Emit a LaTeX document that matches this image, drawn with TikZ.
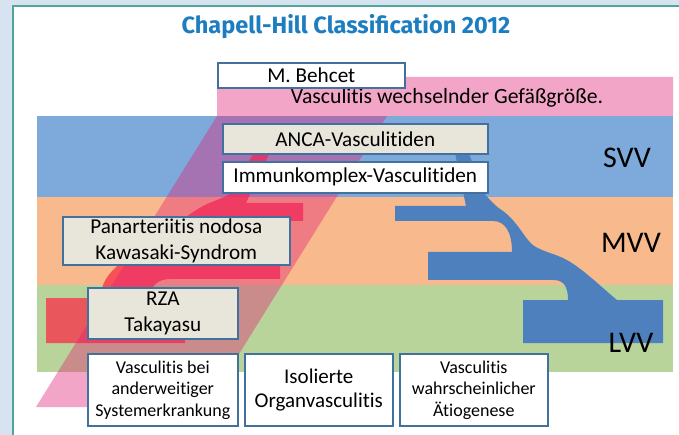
\documentclass[tikz,border=0pt]{standalone}
\usepackage{fontspec}
\setmainfont{Carlito}[Ligatures={NoCommon}]
\newfontfamily\titlefont{Fira Sans}
\usepackage{tikz}

\definecolor{bgframe}{HTML}{D7E3F0}
\definecolor{frameline}{HTML}{4FA79B}
\definecolor{titleblue}{HTML}{1C7EC1}
\definecolor{svvblue}{HTML}{7DAADB}
\definecolor{mvvorange}{HTML}{F8BA8C}
\definecolor{lvvgreen}{HTML}{B8D49B}
\definecolor{treeblue}{HTML}{4F80BE}
\definecolor{treered}{RGB}{250,45,70}
\definecolor{behcetpink}{RGB}{227,32,117}
\definecolor{boxline}{HTML}{41719C}
\definecolor{boxgray}{HTML}{E8E6DA}

\tikzset{
  box/.style={draw=boxline, line width=1.6pt, fill=white, align=center,
    inner sep=0pt, anchor=north west, font=\fontsize{21.2}{26}\selectfont},
  graybox/.style={box, fill=boxgray},
  smallbox/.style={box, font=\fontsize{18}{21.5}\selectfont},
  wh/.style 2 args={minimum width=#1pt, minimum height=#2pt},
  vessel/.style={font=\fontsize{30}{30}\selectfont}
}

\begin{document}
\begin{tikzpicture}[x=1pt, y=-1pt]
    \useasboundingbox (0,0) rectangle (679,435);
    \clip (0,0) rectangle (679,435);
    % frame
    \fill[bgframe] (0,0) rectangle (679,435);
    \draw[frameline, line width=1.8pt, fill=white] (13,6) rectangle (700,460);

    \node[font=\titlefont\bfseries\fontsize{23.5}{23.5}\selectfont, text=titleblue]
      (title) at (346,27) {Chapell-Hill Classification 2012};

    % vessel size bands
    \def\xl{37}
    \def\xr{673}
    \foreach \ya/\yb/\col in {116/197/svvblue, 197/285/mvvorange, 285/372/lvvgreen} {
      \fill[\col] (\xl,\ya) rectangle (\xr,\yb);
    }

    % red tree
    \fill[treered, fill opacity=0.75]
      (256,148) -- (272,148) -- (246,203) -- (303,203) -- (303,221) -- (236,221)
      .. controls (224,221) and (216,232) .. (216,245)
      -- (280,245) -- (280,279) -- (170,279)
      .. controls (158,279) and (150,286) .. (150,298)
      -- (185,298) -- (185,343) -- (46,343) -- (46,298) -- (100,298)
      .. controls (102,280) and (110,268) .. (140,250)
      .. controls (165,235) and (185,215) .. (205,205)
      .. controls (220,198) and (228,197) .. (234,190)
      -- cycle;

    % variable vessel (pink)
    \fill[behcetpink, fill opacity=0.4]
      (217,77) -- (673,77) -- (673,116) -- (387,116) -- (206,407)
      -- (36,407) -- (217,116) -- cycle;

    % blue tree
    \fill[treeblue]
      (454,148) -- (467,148) -- (483,192)
      .. controls (490,200) and (495,206) .. (503,211)
      .. controls (515,220) and (520,230) .. (528,240)
      .. controls (535,250) and (550,252) .. (563,258)
      .. controls (580,266) and (600,286) .. (617,300)
      -- (663,300) -- (663,343) -- (523,343) -- (523,300) -- (568,300)
      .. controls (568,284) and (562,280) .. (553,280)
      -- (428,280) -- (428,252) -- (512,252)
      .. controls (512,232) and (505,221) .. (493,221)
      -- (395,221) -- (395,206) -- (466,206)
      -- cycle;

    % labels
    \foreach \lab/\xv/\yv in {SVV/627/158, MVV/631/243, LVV/631/343} {
      \node[vessel] (\lab) at (\xv,\yv) {\lab};
    }
    \node[font=\fontsize{21.7}{21.7}\selectfont] (variable) at (447,98)
      {Vasculitis wechselnder Gefäßgröße.};

    \node[box, wh={187}{25}] (behcet) at (217,62) {M. Behcet};
    \node[graybox, wh={265}{30}] (anca) at (222,123) {ANCA-Vasculitiden};
    \node[box, wh={265}{31}] (immun) at (222,161) {Immunkomplex-Vasculitiden};
    \node[graybox, wh={227}{48}] (pan) at (62,216) {Panarteriitis nodosa\\Kawasaki-Syndrom};
    \node[graybox, wh={150}{51}] (rza) at (87,287) {RZA\\Takayasu};
    \node[smallbox, wh={150}{72}] (sys) at (87,353) {Vasculitis bei\\anderweitiger\\Systemerkrankung};
    \node[box, wh={148}{72}, font=\fontsize{21}{24}\selectfont] (organ) at (244,353) {Isolierte\\Organvasculitis};
    \node[smallbox, wh={148}{72}] (aetio) at (399,353) {Vasculitis\\wahrscheinlicher\\Ätiogenese};

\end{tikzpicture}
\end{document}
